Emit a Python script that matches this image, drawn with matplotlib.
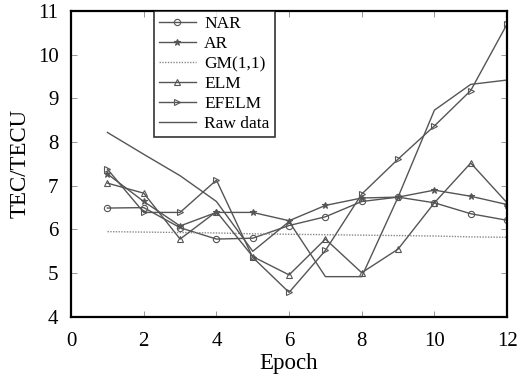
import numpy as np
import matplotlib
matplotlib.use("Agg")
import matplotlib.pyplot as plt

plt.rcParams['font.family'] = ['Liberation Serif', 'DejaVu Serif']

# --------------------------------------------------
# DATA
# --------------------------------------------------
epoch = [1, 2, 3, 4, 5, 6, 7, 8, 9, 10, 11, 12]
nar = [6.49, 6.50, 6.04, 5.78, 5.80, 6.09, 6.29, 6.64, 6.74, 6.61, 6.36, 6.21]
ar = [7.27, 6.64, 6.08, 6.39, 6.39, 6.20, 6.55, 6.72, 6.74, 6.90, 6.76, 6.57]
gm = [5.95, 5.94, 5.93, 5.92, 5.90, 5.89, 5.88, 5.87, 5.86, 5.85, 5.83, 5.82]
elm = [7.06, 6.83, 5.78, 6.41, 5.38, 4.96, 5.78, 5.01, 5.55, 6.61, 7.52, 6.61]
efelm = [7.38, 6.39, 6.39, 7.13, 5.36, 4.56, 5.52, 6.81, 7.61, 8.37, 9.18, 10.70]
raw = [8.22, 7.72, 7.23, 6.64, 5.50, 6.18, 4.92, 4.92, 6.74, 8.73, 9.32, 9.42]

xticks = [0, 2, 4, 6, 8, 10, 12]
yticks = [4, 5, 6, 7, 8, 9, 10, 11]

# --------------------------------------------------
# PLOT
# --------------------------------------------------
fig = plt.figure(figsize=(5.19, 3.79), dpi=100)
ax = fig.add_axes([0.137, 0.164, 0.840, 0.807])

c = '#555555'
ms = 4.5
ax.plot(epoch, nar, color=c, lw=1, marker='o', ms=ms, mfc='none', mew=0.8, label='NAR')
ax.plot(epoch, ar, color=c, lw=1, marker='*', ms=ms, mew=0.8, label='AR')
ax.plot(epoch, gm, color='#888888', lw=1, ls=(0, (1, 1)), label='GM(1,1)')
ax.plot(epoch, elm, color=c, lw=1, marker='^', ms=ms, mfc='none', mew=0.8, label='ELM')
ax.plot(epoch, efelm, color=c, lw=1, marker='>', ms=ms, mfc='none', mew=0.8, label='EFELM')
ax.plot(epoch, raw, color=c, lw=1, label='Raw data')

ax.set_xlim(0, 12)
ax.set_ylim(4, 11)
ax.set_xticks(xticks)
ax.set_yticks(yticks)
ax.tick_params(direction='in', length=4, width=0.6, color='#888888',
               labelsize=15, top=True, right=True)
ax.tick_params(axis='x', pad=11)
ax.tick_params(axis='y', pad=9)
for s in ax.spines.values():
    s.set_linewidth(1.6)
    s.set_color('black')

ax.set_xlabel('Epoch', fontsize=16.5, labelpad=1)
ax.set_ylabel('TEC/TECU', fontsize=16.5, labelpad=5)

leg = ax.legend(loc='upper left', bbox_to_anchor=(0.19, 1.0), fontsize=12.5,
                frameon=True, fancybox=False, edgecolor='black',
                handlelength=2.1, borderpad=0.3, labelspacing=0.22,
                handletextpad=0.5, borderaxespad=0)
leg.get_frame().set_linewidth(1.2)

fig.savefig('out.png', dpi=100)
